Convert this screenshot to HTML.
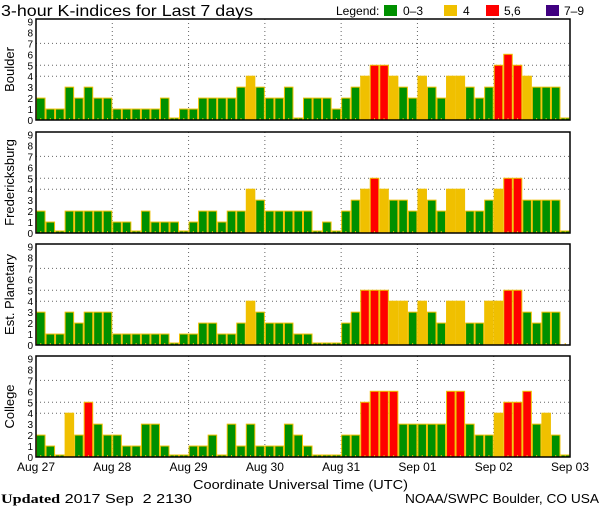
<!DOCTYPE html>
<html><head><meta charset="utf-8"><style>
body{margin:0;background:#fff;width:600px;height:510px;overflow:hidden}
svg{display:block;font-family:"Liberation Sans",sans-serif}
</style></head><body>
<svg id="chart" width="600" height="510" viewBox="0 0 600 510">
<text x="1" y="16" font-size="16" textLength="252" lengthAdjust="spacingAndGlyphs" fill="#000">3-hour K-indices for Last 7 days</text>
<g font-size="12">
<text x="336" y="15">Legend:</text>
<rect x="384" y="5" width="13" height="11" fill="#009000"/>
<text x="403" y="15">0–3</text>
<rect x="444" y="5" width="13" height="11" fill="#f0c000"/>
<text x="463" y="15">4</text>
<rect x="486" y="5" width="13" height="11" fill="#ff0000"/>
<text x="504" y="15">5,6</text>
<rect x="546" y="5" width="13" height="11" fill="#400080"/>
<text x="564" y="15">7–9</text>
</g>
<g id="panels"></g>
<text x="193" y="489" font-size="13" textLength="215" lengthAdjust="spacingAndGlyphs">Coordinate Universal Time (UTC)</text>
<text x="1" y="503" font-size="13" xml:space="preserve" textLength="191" lengthAdjust="spacingAndGlyphs"><tspan font-family="Liberation Serif" font-weight="bold">Updated</tspan> 2017 Sep  2 2130</text>
<text x="405" y="503" font-size="13" textLength="194" lengthAdjust="spacingAndGlyphs">NOAA/SWPC Boulder, CO USA</text>
</svg>
<script>
const stations = ["Boulder","Fredericksburg","Est. Planetary","College"];
const dayLabels = ["Aug 27","Aug 28","Aug 29","Aug 30","Aug 31","Sep 01","Sep 02","Sep 03"];
const yTicks = [0,1,2,3,4,5,6,7,8,9];
const boulder = [2,1,1,3,2,3,2,2, 1,1,1,1,1,2,0,1, 1,2,2,2,2,3,4,3, 2,2,3,0,2,2,2,1, 2,3,4,5,5,4,3,2, 4,3,2,4,4,3,2,3, 5,6,5,4,3,3,3,0];
const fredericksburg = [2,1,0,2,2,2,2,2, 1,1,0,2,1,1,1,0, 1,2,2,1,2,2,4,3, 2,2,2,2,2,0,1,0, 2,3,4,5,4,3,3,2, 4,3,2,4,4,2,2,3, 4,5,5,3,3,3,3,0];
const planetary = [3,1,1,3,2,3,3,3, 1,1,1,1,1,1,0,1, 1,2,2,1,1,2,4,3, 2,2,2,1,1,0,0,0, 2,3,5,5,5,4,4,3, 4,3,2,4,4,2,2,4, 4,5,5,3,2,3,3,null];
const college = [2,1,0,4,2,5,3,2, 2,1,1,3,3,1,0,0, 1,1,2,0,3,1,3,1, 1,1,3,2,1,0,0,0, 2,2,5,6,6,6,3,3, 3,3,3,6,6,3,2,2, 4,5,5,6,3,4,2,0];
const series = [boulder,fredericksburg,planetary,college];

const NS="http://www.w3.org/2000/svg";
const g=document.getElementById('panels');
const X0=36,X1=570,NB=56,bw=(X1-X0)/NB;
const tops=[19,132,244,356],H=101,unit=10.95;
function xs(i){return X0+i*bw;}
function mk(tag,at,parent){const e=document.createElementNS(NS,tag);for(const k in at)e.setAttribute(k,at[k]);(parent||g).appendChild(e);return e;}
function color(v){return v<=3?'#009000':v==4?'#f0c000':v<=6?'#ff0000':'#400080';}
series.forEach((data,p)=>{
  const top=tops[p],bot=top+H;
  const ys=v=>bot-v*unit;
  const pg=mk('g',{});
  
  
  [4,5,7].forEach(v=>{const l=mk('line',{x1:X0,x2:X1,y1:ys(v),y2:ys(v),stroke:'#666','stroke-dasharray':'1,3'},pg);
    
    });
  for(let d=1;d<7;d++){const l=mk('line',{x1:xs(d*8),x2:xs(d*8),y1:top,y2:bot,stroke:'#666','stroke-dasharray':'1,3'},pg);
    
    }
  data.forEach((v,i)=>{
    if(v!==null){
      const h=Math.max(v*unit,2);
      const r=mk('rect',{x:xs(i)+0.5,y:bot-h,width:bw-1,height:h,fill:color(v),stroke:'#f0c000','stroke-width':1},pg);
      
      
    }
    const t=mk('line',{x1:xs(i)+bw/2,x2:xs(i)+bw/2,y1:bot-2,y2:bot,stroke:'#f0c000'},pg);
    
    
  });
  const fr=mk('rect',{x:X0,y:top,width:X1-X0,height:H,fill:'none',stroke:'#000','stroke-width':1.5},pg);
  
  
  yTicks.forEach(v=>{const t=mk('text',{x:33,y:ys(v)+4,'font-size':10,'text-anchor':'end'},pg);t.textContent=v;
    
    });
  const cy=top+H/2;
  const lab=mk('text',{x:0,y:0,'font-size':13,'text-anchor':'middle',transform:`translate(14,${cy}) rotate(-90)`},pg);
  lab.textContent=stations[p];
  
  
});
dayLabels.forEach((d,k)=>{
  const t=mk('text',{x:xs(k*8),y:471,'font-size':12,'text-anchor':'middle'});
  t.textContent=d;
  
  
});
</script>
</body></html>
